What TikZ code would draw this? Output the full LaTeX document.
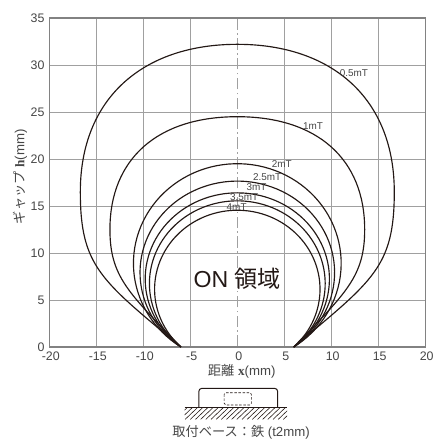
\documentclass[tikz,border=0pt]{standalone}
\usepackage{fontspec}
\setmainfont{Liberation Sans}
\newfontfamily\jp{Noto Sans CJK JP}
\newfontfamily\serifb{Liberation Serif}
\usepackage{tikz}
\usetikzlibrary{positioning}

\definecolor{gridgray}{RGB}{160,160,160}
\definecolor{framegray}{RGB}{130,130,130}
\definecolor{inkblack}{RGB}{35,24,21}
\definecolor{labelgray}{RGB}{70,70,70}

\begin{document}
\begin{tikzpicture}[x=0.2cm, y=0.2cm, thick]
    % Styles for grid, curves and labels
    \tikzstyle{gridline} = [gridgray, line width=0.5pt]
    \tikzstyle{frame} = [framegray, line width=0.8pt]
    \tikzstyle{centerline} = [gridgray, line width=0.5pt, dash pattern=on 7pt off 2pt on 1pt off 2pt]
    \tikzstyle{curve} = [inkblack, line width=0.7pt]
    \tikzstyle{tick} = [labelgray, inner sep=0pt, font=\fontsize{7.5}{9}\selectfont]
    \tikzstyle{fieldlabel} = [labelgray, inner sep=0pt, font=\fontsize{6}{7}\selectfont]
    \tikzstyle{axistitle} = [labelgray, inner sep=0pt, font=\fontsize{8}{9}\selectfont]
    \tikzstyle{part} = [inkblack, line width=0.6pt]

    \useasboundingbox (-25.245,-10.106) rectangle (21.14,36.915);

    % Grid
    \foreach \x in {-15,-10,-5,5,10,15}
        \draw[gridline] (\x,0) -- (\x,35);
    \foreach \y in {5,10,...,30}
        \draw[gridline] (-20,\y) -- (20,\y);
    \draw[centerline] (0,0) -- (0,35);
    \draw[frame] (-20,0) rectangle (20,35);

    % Tick labels
    \foreach \y in {0,5,...,35}
        \node[tick, anchor=east] (yt\y) at (-20.45,\y) {\y};
    \foreach \x in {-20,-15,...,20}
        \node[tick] (xt\x) at (\x+0.15,-1.0) {\x};

    % Axis titles
    \node[axistitle, rotate=90] (ytitle) at (-23.1,18.1) {{\jp ギャップ} {\serifb\bfseries h}(mm)};
    \node[axistitle] (xtitle) at (0.47,-2.63) {{\jp 距離} {\serifb\bfseries x}(mm)};

    % Outer curves (0.5mT, 1mT)
    \draw[curve] (-6,0) .. controls (-14.43,7.07) and (-16.7,8.5) .. (-16.7,16.5)
        .. controls (-16.7,26.5) and (-10,32.2) .. (0,32.2)
        .. controls (10,32.2) and (16.7,26.5) .. (16.7,16.5)
        .. controls (16.7,8.5) and (14.43,7.07) .. (6,0);
    \draw[curve] (-6,0) .. controls (-11.56,5.75) and (-13.55,7.5) .. (-13.55,12.5)
        .. controls (-13.55,20) and (-8.5,24.5) .. (0,24.5)
        .. controls (8.5,24.5) and (13.55,20) .. (13.55,12.5)
        .. controls (13.55,7.5) and (11.56,5.75) .. (6,0);

    % Inner curves (half width / top height)
    \foreach \wd/\tp in {11.05/19.5, 10.35/17.65, 9.8/16.4, 9.35/15.55, 8.8/14.55} {
        \pgfmathsetmacro\kk{sqrt(1-36/(\wd*\wd))}
        \pgfmathsetmacro\ry{\tp/(1+\kk)}
        \pgfmathsetmacro\cy{\tp-\ry}
        \pgfmathsetmacro\ts{-acos(6/\wd)}
        \pgfmathsetmacro\te{180+acos(6/\wd)}
        \draw[curve] plot[domain=\ts:\te, samples=90, variable=\t] ({\wd*cos(\t)},{\cy+\ry*sin(\t)});
    }

    % Curve labels
    \node[fieldlabel] (l05) at (12.4,29.15) {0.5mT};
    \node[fieldlabel] (l1) at (8.05,23.5) {1mT};
    \node[fieldlabel] (l2) at (4.72,19.47) {2mT};
    \node[fieldlabel] (l25) at (3.18,18.05) {2.5mT};
    \node[fieldlabel] (l3) at (2.05,17.0) {3mT};
    \node[fieldlabel] (l35) at (0.73,15.9) {3.5mT};
    \node[fieldlabel] (l4) at (-0.07,14.9) {4mT};

    % Region text
    \node[inkblack, inner sep=0pt, font=\fontsize{14}{16}\selectfont] (onregion) at (0,7.3) {ON {\jp 領域}};

    % Sensor on mounting base
    \begin{scope}
        \clip (-5.6,-6.46) rectangle (5.3,-7.7);
        \foreach \i in {-7.2,-6.65,...,5.4}
            \draw[part, line width=0.35pt] (\i,-7.7) -- (\i+1.3,-6.46);
    \end{scope}
    \draw[part] (-5.6,-6.46) -- (5.3,-6.46);
    \draw[part, rounded corners=2pt] (-4.1,-6.46) -- (-4.1,-4.39) -- (4.3,-4.39) -- (4.3,-6.46);
    \draw[part, line width=0.4pt, dash pattern=on 1.5pt off 1pt, rounded corners=1pt] (-1.4,-4.86) rectangle (1.5,-6.17);
    \node[axistitle] (basetext) at (0.4,-9.1) {{\jp 取付ベース：鉄} (t2mm)};
\end{tikzpicture}
\end{document}
